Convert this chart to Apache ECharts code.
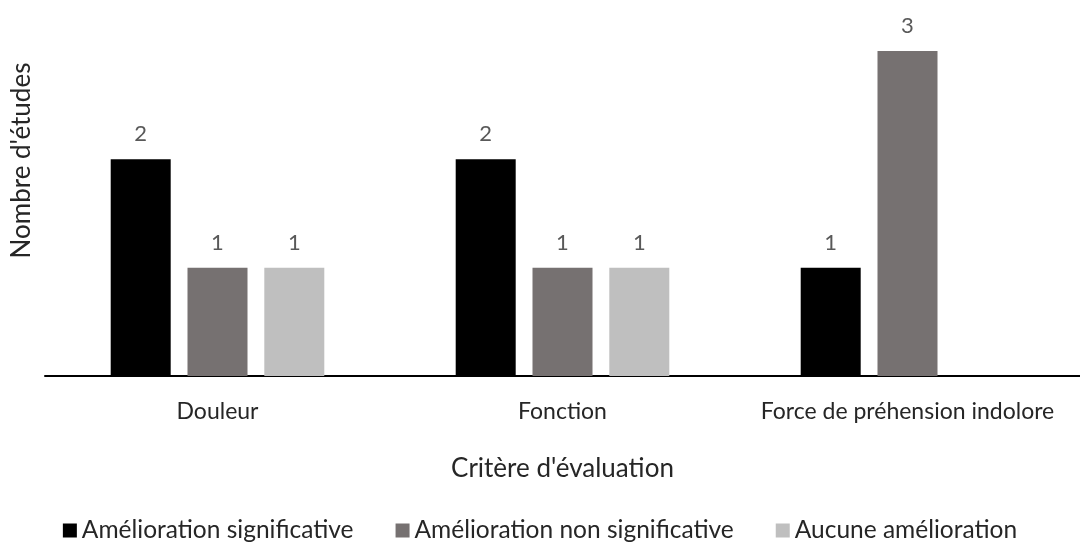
<!DOCTYPE html>
<html>
<head>
<meta charset="utf-8">
<script src="https://cdn.jsdelivr.net/npm/echarts@6/dist/echarts.min.js"></script>
<style>html,body{margin:0;padding:0;background:#fff}#c{width:1080px;height:550px}</style>
</head>
<body>
<div id="c"></div>
<script>
var categories = ['Douleur', 'Fonction', 'Force de préhension indolore'];
var seriesNames = ['Amélioration significative', 'Amélioration non significative', 'Aucune amélioration'];
var significative = [2, 2, 1];
var nonSignificative = [1, 1, 3];
var aucune = [1, 1, null];
var colors = ['#000000', '#767171', '#bfbfbf'];
var FONT = 'Lato';

var chart = echarts.init(document.getElementById('c'));
function mk(name, data, color) {
  return {
    name: name, type: 'bar', data: data, barWidth: 60, barGap: '28%',
    itemStyle: { color: color },
    label: { show: true, position: 'top', distance: 14, color: '#595959', fontSize: 22, fontFamily: FONT },
    emphasis: { disabled: true }
  };
}
chart.setOption({
  animation: false,
  color: colors,
  grid: { left: 45, right: 0, top: 51, bottom: 174, containLabel: false, outerBoundsMode: 'none' },
  legend: {
    bottom: 2, left: 'center', icon: 'rect', itemWidth: 14, itemHeight: 14, itemGap: 42,
    textStyle: { fontSize: 24.5, color: '#262626', fontFamily: FONT },
    data: seriesNames
  },
  xAxis: {
    type: 'category', data: categories,
    axisLine: { lineStyle: { color: '#000', width: 2 } },
    axisTick: { show: false },
    axisLabel: { interval: 0, fontSize: 23, color: '#262626', margin: 24, fontFamily: FONT },
    name: "Critère d'évaluation", nameLocation: 'middle', nameGap: 80,
    nameTextStyle: { fontSize: 26, color: '#262626', fontFamily: FONT }
  },
  yAxis: {
    type: 'value', min: 0, max: 3, interval: 1,
    axisLine: { show: false }, axisTick: { show: false },
    axisLabel: { show: false }, splitLine: { show: false },
    name: "Nombre d'études", nameLocation: 'middle', nameGap: 10,
    nameTextStyle: { fontSize: 26, color: '#262626', fontFamily: FONT, padding: [0, 0, 0, 106] }
  },
  series: [
    mk(seriesNames[0], significative, colors[0]),
    mk(seriesNames[1], nonSignificative, colors[1]),
    mk(seriesNames[2], aucune, colors[2])
  ]
});
</script>
</body>
</html>
